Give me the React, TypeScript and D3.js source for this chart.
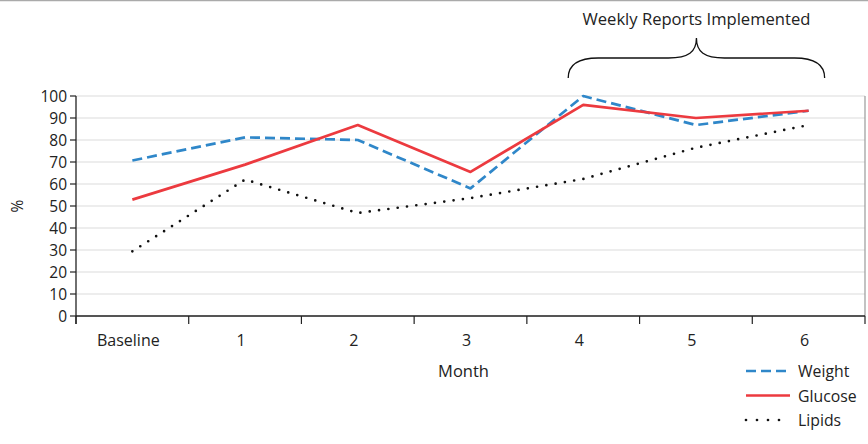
import React from "react";
import * as d3 from "d3";

const categories = ["Baseline", "1", "2", "3", "4", "5", "6"];
const weight = [70.7, 81.2, 80, 58, 100, 86.8, 93.3];
const glucose = [52.9, 68.8, 86.8, 65.5, 96, 90, 93.3];
const lipids = [29.4, 62, 46.8, 53.6, 62.3, 76.5, 86.8];
const yTicks = [0, 10, 20, 30, 40, 50, 60, 70, 80, 90, 100];
const seriesNames = ["Weight", "Glucose", "Lipids"];
const annotation = "Weekly Reports Implemented";

const W = 868, H = 444;
const left = 76, right = 865, top = 96, bottom = 316;
const FONT = "'Open Sans', 'Noto Sans', sans-serif";

export default function App() {
  const x = d3.scaleBand<string>().domain(categories).range([left, right]);
  const y = d3.scaleLinear().domain([0, 100]).range([bottom, top]);
  const cx = (c: string) => (x(c) as number) + x.bandwidth() / 2;
  const line = d3.line<number>().x((_, i) => cx(categories[i])).y((v) => y(v));

  const styles = [
    { data: weight, color: "#2f87c9", dash: "10,5", width: 2.7, cap: "butt" },
    { data: glucose, color: "#ec3a3f", dash: "none", width: 2.7, cap: "butt" },
    { data: lipids, color: "#111", dash: "0,9.4", width: 2.7, cap: "round" },
  ];

  const bx0 = cx("4") - 15, bx1 = cx("6") + 16, bm = (bx0 + bx1) / 2;
  const braceTop = 38, braceMid = 58, braceBot = 78;
  const brace = `M${bx0},${braceBot} C${bx0},${braceMid + 6} ${bx0 + 10},${braceMid} ${bx0 + 30},${braceMid} L${bm - 28},${braceMid} C${bm - 8},${braceMid} ${bm},${braceMid - 6} ${bm},${braceTop} C${bm},${braceMid - 6} ${bm + 8},${braceMid} ${bm + 28},${braceMid} L${bx1 - 30},${braceMid} C${bx1 - 10},${braceMid} ${bx1},${braceMid + 6} ${bx1},${braceBot}`;

  const edges = categories.map((c) => x(c) as number).concat([right]);

  return (
    <svg width={W} height={H} style={{ position: "absolute", left: 0, top: 0, background: "#fff" }} fontFamily={FONT}>
      <line x1={0} x2={W} y1={0.5} y2={0.5} stroke="#aaa" strokeWidth={1.5} />
      {yTicks.map((t) => (
        <line key={"g" + t} x1={left} x2={right} y1={y(t)} y2={y(t)} stroke="#dcdcdc" strokeWidth={1.2} />
      ))}
      <line x1={right} x2={right} y1={top} y2={bottom} stroke="#9a9a9a" strokeWidth={1.2} />
      {/* y axis */}
      <line x1={left} x2={left} y1={top} y2={bottom + 8} stroke="#222" strokeWidth={1.3} />
      {yTicks.map((t) => (
        <g key={"yt" + t}>
          <line x1={left - 6} x2={left} y1={y(t)} y2={y(t)} stroke="#222" strokeWidth={1.2} />
          <text x={left - 9} y={y(t) + 5.5} textAnchor="end" fontSize={15.5} fill="#222">{t}</text>
        </g>
      ))}
      <text transform={`translate(23,${(top + bottom) / 2}) rotate(-90)`} textAnchor="middle" fontSize={15.5} fill="#222">%</text>
      {/* x axis */}
      <line x1={left} x2={right} y1={bottom} y2={bottom} stroke="#222" strokeWidth={1.5} />
      {edges.map((e, i) => (
        <line key={"xt" + i} x1={e} x2={e} y1={bottom} y2={bottom + 8} stroke="#222" strokeWidth={1.2} />
      ))}
      {categories.map((c) => (
        <text key={"xl" + c} x={cx(c) - 4} y={346} textAnchor="middle" fontSize={16} fill="#222">{c}</text>
      ))}
      <text x={(left + right) / 2 - 7} y={377} textAnchor="middle" fontSize={16.5} fill="#222">Month</text>
      {/* series */}
      {styles.map((s, i) => (
        <path key={"s" + i} d={line(s.data) as string} fill="none" stroke={s.color} strokeWidth={s.width}
          strokeDasharray={s.dash} strokeLinecap={s.cap as any} strokeLinejoin="round" />
      ))}
      {/* legend */}
      {styles.map((s, i) => (
        <g key={"lg" + i}>
          <line x1={746} x2={790} y1={371 + i * 24.5} y2={371 + i * 24.5} stroke={s.color} strokeWidth={s.width}
            strokeDasharray={s.dash === "0,9.4" ? "0,11" : s.dash} strokeLinecap={s.cap as any} />
          <text x={798} y={377 + i * 24.5} fontSize={15.8} fill="#222">{seriesNames[i]}</text>
        </g>
      ))}
      {/* annotation */}
      <path d={brace} fill="none" stroke="#111" strokeWidth={1.3} />
      <text x={bm} y={25} textAnchor="middle" fontSize={16.6} fill="#222">{annotation}</text>
    </svg>
  );
}
